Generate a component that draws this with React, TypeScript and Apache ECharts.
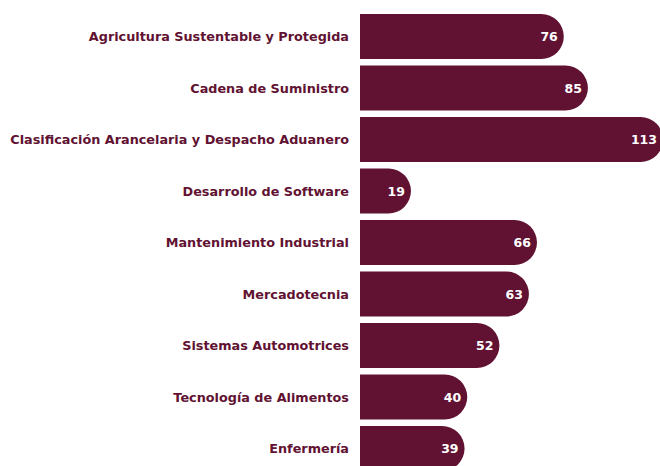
import React, { useEffect, useRef } from "react";
import * as echarts from "echarts";

const categories = [
  "Agricultura Sustentable y Protegida",
  "Cadena de Suministro",
  "Clasificación Arancelaria y Despacho Aduanero",
  "Desarrollo de Software",
  "Mantenimiento Industrial",
  "Mercadotecnia",
  "Sistemas Automotrices",
  "Tecnología de Alimentos",
  "Enfermería",
];
const values = [76, 85, 113, 19, 66, 63, 52, 40, 39];

const GUINDA = "#611232";

export default function App() {
  const ref = useRef<HTMLDivElement>(null);
  useEffect(() => {
    if (!ref.current) return;
    const chart = echarts.init(ref.current, undefined, { renderer: "svg" });
    chart.setOption({
      animation: false,
      grid: { left: 360, top: 10.75, width: 303, height: 463.5, containLabel: false },
      xAxis: {
        type: "value",
        min: 0,
        max: 113,
        show: false,
      },
      yAxis: {
        type: "category",
        data: categories,
        inverse: true,
        axisLine: { show: false },
        axisTick: { show: false },
        splitLine: { show: false },
        axisLabel: {
          color: GUINDA,
          fontFamily: "DejaVu Sans",
          fontWeight: 700,
          fontSize: 12.8,
          margin: 11,
        },
      },
      series: [
        {
          type: "bar",
          data: values,
          barWidth: 45,
          itemStyle: { color: GUINDA, borderRadius: [0, 22.5, 22.5, 0] },
          label: {
            show: true,
            position: "insideRight",
            distance: 6,
            color: "#ffffff",
            fontFamily: "DejaVu Sans",
            fontWeight: 700,
            fontSize: 12.5,
          },
        },
      ],
    });
    return () => chart.dispose();
  }, []);
  return (
    <div
      style={{ position: "fixed", left: 0, top: 0, width: 660, height: 466, overflow: "hidden", background: "#fff" }}
    >
      <div ref={ref} style={{ width: 680, height: 490 }} />
    </div>
  );
}
